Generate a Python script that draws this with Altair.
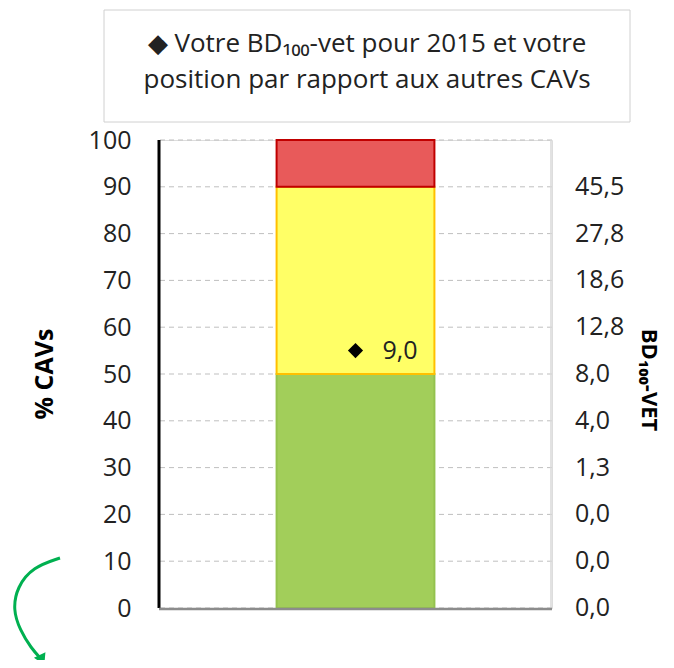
import altair as alt
import pandas as pd

# Stacked bar bands (% of CAVs)
band_names = ["vert", "jaune", "rouge"]
band_start = [0, 50, 90]
band_end = [50, 90, 100]
band_fill = ["#A2CE5A", "#FFFF66", "#E85A5A"]
band_stroke = ["#94C24E", "#FFC000", "#C00000"]

# Your value
point_pct = [55]
point_label = ["9,0"]

# Right axis labels (BD100-VET per % level)
right_pct = [0, 10, 20, 30, 40, 50, 60, 70, 80, 90]
right_labels = ["0,0", "0,0", "0,0", "1,3", "4,0", "8,0", "12,8", "18,6", "27,8", "45,5"]

left_ticks = list(range(0, 101, 10))

legend_lines = ["\u25C6 Votre BD\u2081\u2080\u2080-vet pour 2015 et votre",
                "position par rapport aux autres CAVs"]

# Decorative green arrow path (pixel coordinates relative to plot area)
arrow_x = [-99, -126, -142, -146, -139, -128, -117]
arrow_y = [418, 427, 447, 470, 490, 508, 520]

W, H = 393, 468
FONT = "Open Sans"
FS = 25

bars = pd.DataFrame({"cat": ["A"] * 3, "band": band_names, "start": band_start,
                     "end": band_end})
pts = pd.DataFrame({"cat": ["A"], "pct": point_pct, "label": point_label})
rl = pd.DataFrame({"pct": right_pct, "label": right_labels})
arrow = pd.DataFrame({"x": arrow_x, "y": arrow_y, "o": range(len(arrow_x))})
one = pd.DataFrame({"k": [0]})

yscale = alt.Scale(domain=[0, 100], nice=False, zero=False)
xscale = alt.Scale(domain=["A"], paddingInner=0.0, paddingOuter=0.745)

# gridlines + left axis
base_axis = alt.Chart(pd.DataFrame({"v": left_ticks})).mark_rule(
    color="#BFBFBF", strokeDash=[5, 4], strokeWidth=1
).encode(
    y=alt.Y("v:Q", scale=yscale,
            axis=alt.Axis(values=left_ticks, ticks=False, grid=False, domain=False,
                          labelFontSize=FS, labelFont=FONT, labelColor="#222222",
                          labelPadding=28, title=None)),
)

bar_layer = alt.Chart(bars).mark_bar(strokeWidth=2).encode(
    x=alt.X("cat:N", scale=xscale, axis=None),
    y=alt.Y("start:Q", scale=yscale, axis=None),
    y2="end:Q",
    color=alt.Color("band:N", scale=alt.Scale(domain=band_names, range=band_fill), legend=None),
    stroke=alt.Stroke("band:N", scale=alt.Scale(domain=band_names, range=band_stroke), legend=None),
)

pt_layer = alt.Chart(pts).mark_point(shape="diamond", filled=True, color="black",
                                     size=230, opacity=1).encode(
    x=alt.X("cat:N", scale=xscale, axis=None),
    y=alt.Y("pct:Q", scale=yscale, axis=None),
)
pt_text = alt.Chart(pts).mark_text(align="left", baseline="middle", dx=27, font=FONT,
                                   fontSize=FS, color="#222222").encode(
    x=alt.X("cat:N", scale=xscale, axis=None),
    y=alt.Y("pct:Q", scale=yscale, axis=None),
    text="label:N",
)

# frame lines
left_line = alt.Chart(one).mark_rule(color="black", strokeWidth=3).encode(
    x=alt.value(0), y=alt.value(0), y2=alt.value(H))
right_line = alt.Chart(one).mark_rule(color="#D9D9D9", strokeWidth=1.5).encode(
    x=alt.value(W - 1), y=alt.value(0), y2=alt.value(H))
bottom_line = alt.Chart(one).mark_rule(color="#8C8C8C", strokeWidth=2.5).encode(
    x=alt.value(0), x2=alt.value(W), y=alt.value(H + 1))

right_text = alt.Chart(rl).mark_text(align="left", baseline="middle", font=FONT,
                                     fontSize=FS, color="#222222").encode(
    x=alt.value(W + 23),
    y=alt.Y("pct:Q", scale=yscale, axis=None),
    text="label:N",
)

left_title = alt.Chart(one).mark_text(
    text="% CAVs", angle=270, font=FONT, fontSize=25, fontWeight="bold",
    align="center", baseline="middle", color="black").encode(
    x=alt.value(-114), y=alt.value(234))
right_title = alt.Chart(one).mark_text(
    text="BD\u2081\u2080\u2080-VET", angle=90, font=FONT, fontSize=22, fontWeight="bold",
    align="center", baseline="middle", color="black").encode(
    x=alt.value(490), y=alt.value(240))

legend_box = alt.Chart(one).mark_rect(fill="white", stroke="#D0D0D0",
                                      strokeWidth=1).encode(
    x=alt.value(-55), x2=alt.value(471), y=alt.value(-130), y2=alt.value(-18))
legend_t1 = alt.Chart(one).mark_text(text=legend_lines[0], font=FONT, fontSize=26,
                                     align="center", baseline="middle",
                                     color="#222222").encode(
    x=alt.value(208), y=alt.value(-96))
legend_t2 = alt.Chart(one).mark_text(text=legend_lines[1], font=FONT, fontSize=26,
                                     align="center", baseline="middle",
                                     color="#222222").encode(
    x=alt.value(208), y=alt.value(-60))

arrow_line = alt.Chart(arrow).mark_line(color="#00B050", strokeWidth=3,
                                        interpolate="basis").encode(
    x=alt.X("x:Q", scale=None, axis=None), y=alt.Y("y:Q", scale=None, axis=None),
    order="o:Q")
arrow_head = alt.Chart(arrow.tail(1)).mark_point(shape="triangle-down", filled=True,
                                                 color="#00B050", size=160, opacity=1,
                                                 angle=335).encode(
    x=alt.X("x:Q", scale=None, axis=None), y=alt.Y("y:Q", scale=None, axis=None))

chart = alt.layer(
    base_axis, bar_layer, pt_layer, pt_text, left_line, right_line, bottom_line,
    right_text, left_title, right_title, legend_box, legend_t1, legend_t2,
    arrow_line, arrow_head
).resolve_scale(x="independent", y="independent").properties(
    width=W, height=H,
    autosize=alt.AutoSizeParams(type="none"),
    padding={"left": 151, "top": 132, "right": 114, "bottom": 52},
).configure_view(stroke=None).configure(background="white")

chart.save("out.html", embed_options={"renderer": "svg", "actions": False})
